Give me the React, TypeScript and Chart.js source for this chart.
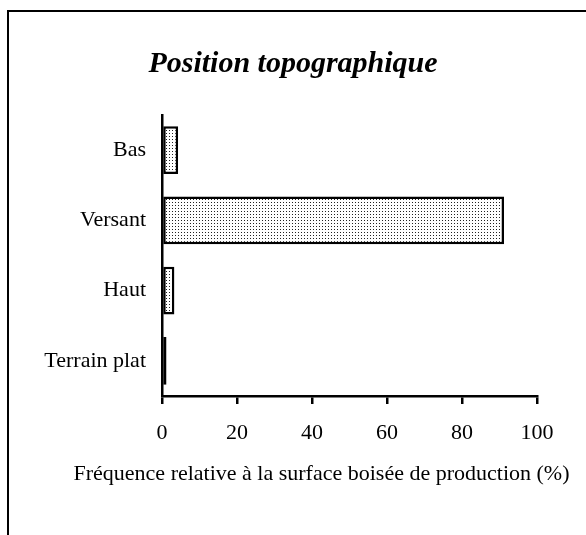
import React, { useEffect, useRef } from "react";
import { Chart, registerables } from "chart.js";

Chart.register(...registerables);

const categories = ["Bas", "Versant", "Haut", "Terrain plat"];
const values = [4.3, 91.2, 3.3, 1.2];
const xTicks = [0, 20, 40, 60, 80, 100];
const titleText = "Position topographique";
const xTitle = "Fréquence relative à la surface boisée de production (%)";

const FONT = "'Liberation Serif', 'Times New Roman', serif";

function makePattern(): CanvasPattern | string {
  const c = document.createElement("canvas");
  c.width = 3;
  c.height = 3;
  const g = c.getContext("2d");
  if (!g) return "#ddd";
  g.fillStyle = "#ffffff";
  g.fillRect(0, 0, 3, 3);
  g.fillStyle = "#222222";
  g.fillRect(1, 1, 1, 1);
  const p = g.createPattern(c, "repeat");
  return p || "#ddd";
}

const framePlugin = {
  id: "frame",
  beforeDraw(chart: any) {
    const ctx = chart.ctx;
    ctx.save();
    ctx.fillStyle = "#ffffff";
    ctx.fillRect(0, 0, chart.width, chart.height);
    ctx.fillStyle = "#000000";
    ctx.fillRect(7, 10, 2, chart.height);
    ctx.fillRect(7, 10, chart.width, 2);
    ctx.restore();
  },
  afterDraw(chart: any) {
    const ctx = chart.ctx;
    ctx.save();
    ctx.fillStyle = "#000000";
    ctx.font = `22px ${FONT}`;
    ctx.textAlign = "center";
    ctx.textBaseline = "middle";
    ctx.fillText(xTitle, 321.5, 474);
    ctx.restore();
  },
};

export default function App() {
  const ref = useRef<HTMLCanvasElement>(null);
  useEffect(() => {
    if (!ref.current) return;
    const chart = new Chart(ref.current, {
      type: "bar",
      data: {
        labels: categories,
        datasets: [
          {
            data: values,
            backgroundColor: makePattern() as any,
            borderColor: "#000000",
            borderWidth: 2.5,
            borderSkipped: false,
            barPercentage: 0.68,
            categoryPercentage: 1,
          },
        ],
      },
      options: {
        indexAxis: "y",
        animation: false,
        responsive: false,
        layout: { padding: { left: 0, right: 0, top: 0, bottom: 0 } },
        plugins: {
          legend: { display: false },
          tooltip: { enabled: false },
          title: {
            display: true,
            text: titleText,
            color: "#000000",
            font: { family: FONT, size: 30, weight: "bold", style: "italic" },
            padding: { top: 46, bottom: 33 },
          },
        },
        scales: {
          y: {
            type: "category",
            grid: { display: false },
            border: { display: true, color: "#000000", width: 2.5 },
            ticks: {
              color: "#000000",
              padding: 8,
              font: { family: FONT, size: 22 },
            },
            afterFit: (s: any) => {
              s.width = 162;
            },
          },
          yRight: {
            type: "linear",
            position: "right",
            display: true,
            grid: { display: false },
            border: { display: false },
            ticks: { display: false },
            afterFit: (s: any) => {
              s.width = 49;
            },
          },
          x: {
            type: "linear",
            min: 0,
            max: 100,
            afterBuildTicks: (s: any) => {
              s.ticks = xTicks.map((v) => ({ value: v }));
            },
            grid: {
              drawOnChartArea: false,
              drawTicks: true,
              tickLength: 8,
              color: "#000000",
              lineWidth: 2.5,
            },
            border: { display: true, color: "#000000", width: 2.5 },
            ticks: {
              color: "#000000",
              padding: 16,
              font: { family: FONT, size: 22 },
            },
            afterFit: (s: any) => {
              s.height = 139;
            },
          },
        },
      },
      plugins: [framePlugin],
    });
    return () => chart.destroy();
  }, []);
  return (
    <div style={{ position: "absolute", left: 0, top: 0, width: 586, height: 535, overflow: "hidden" }}>
      <canvas ref={ref} width={586} height={535} style={{ display: "block" }} />
    </div>
  );
}
